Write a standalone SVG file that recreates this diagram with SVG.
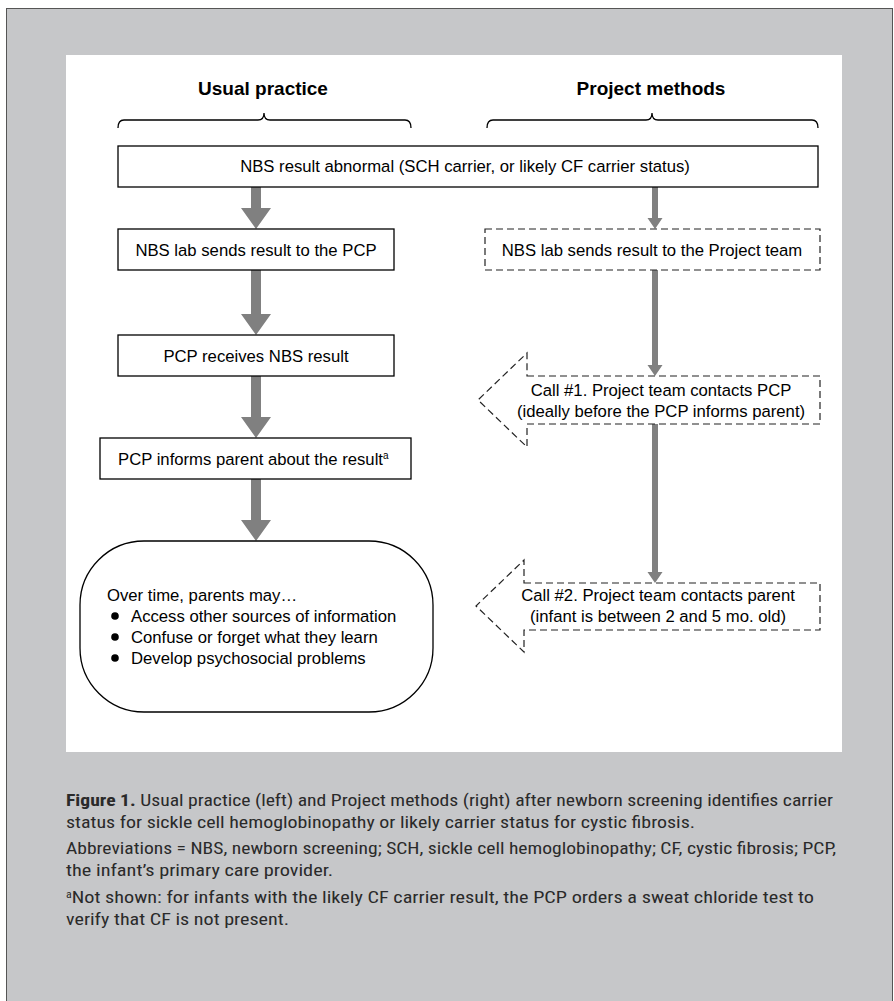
<svg xmlns="http://www.w3.org/2000/svg" width="894" height="1001" viewBox="0 0 894 1001">
<style>
.t{font-family:"Liberation Sans",Arial,sans-serif;font-size:16.7px;fill:#000}
.h{font-family:"Liberation Sans",Arial,sans-serif;font-size:19px;font-weight:bold;fill:#000}
.box{fill:#fff;stroke:#000;stroke-width:1.3}
.dbox{fill:#fff;stroke:#222;stroke-width:1.2;stroke-dasharray:7 4}
.br{fill:none;stroke:#000;stroke-width:1.3}
.ar{fill:#808080}
.cap{font-family:"Roboto Condensed","Liberation Sans Narrow","Liberation Sans",sans-serif;font-size:17px;fill:#2a2a2a}
</style>
<rect x="0" y="0" width="894" height="1001" fill="#fff"/>
<rect x="6.5" y="8.5" width="886" height="1000" fill="#c6c7c9" stroke="#555" stroke-width="1"/>
<rect x="66" y="55" width="776" height="697" fill="#fff"/>

<g id="headings">
<text class="h" x="263" y="95" text-anchor="middle">Usual practice</text>
<text class="h" x="651" y="95" text-anchor="middle">Project methods</text>
<path class="br" d="M118,128 Q118,120 124,120 H258 Q264,120 264,113 Q264,120 270,120 H405 Q411,120 411,128"/>
<path class="br" d="M487,128 Q487,120 493,120 H646 Q652,120 652,113 Q652,120 658,120 H812 Q818,120 818,128"/>
</g>

<g id="connectors">
<polygon class="ar" points="251,187 261,187 261,208 271,208 256,229 241,208 251,208"/>
<polygon class="ar" points="251,270 261,270 261,314 271,314 256,335 241,314 251,314"/>
<polygon class="ar" points="251,376 261,376 261,417 271,417 256,438 241,417 251,417"/>
<polygon class="ar" points="251,479 261,479 261,520 271,520 256,541 241,520 251,520"/>
<polygon class="ar" points="652,187 658,187 658,218 662.5,218 655,229 647.5,218 652,218"/>
<polygon class="ar" points="652,270 658,270 658,365 662.5,365 655,376 647.5,365 652,365"/>
<polygon class="ar" points="652,424 658,424 658,572 662.5,572 655,583 647.5,572 652,572"/>
</g>

<g id="n-abnormal">
<rect class="box" x="118" y="146" width="700" height="41"/>
<text class="t" x="465" y="172" text-anchor="middle">NBS result abnormal (SCH carrier, or likely CF carrier status)</text>
</g>

<g id="n-lab-pcp">
<rect class="box" x="118" y="229" width="276" height="41"/>
<text class="t" x="256" y="255.5" text-anchor="middle">NBS lab sends result to the PCP</text>
</g>

<g id="n-pcp-receives">
<rect class="box" x="118" y="335" width="276" height="41"/>
<text class="t" x="256" y="361.5" text-anchor="middle">PCP receives NBS result</text>
</g>

<g id="n-pcp-informs">
<rect class="box" x="100" y="438" width="311" height="41"/>
<text class="t" x="118" y="464.5">PCP informs parent about the result<tspan font-size="10" dy="-6">a</tspan></text>
</g>

<g id="n-over-time">
<rect class="box" x="80" y="541" width="353" height="171" rx="64" ry="64"/>
<text class="t" x="107" y="601">Over time, parents may…</text>
<circle cx="115" cy="616" r="3.8" fill="#000"/>
<text class="t" x="131" y="622">Access other sources of information</text>
<circle cx="115" cy="637" r="3.8" fill="#000"/>
<text class="t" x="131" y="643">Confuse or forget what they learn</text>
<circle cx="115" cy="658" r="3.8" fill="#000"/>
<text class="t" x="131" y="664">Develop psychosocial problems</text>
</g>

<g id="n-lab-team">
<rect class="dbox" x="485" y="229" width="335" height="41"/>
<text class="t" x="652" y="255.5" text-anchor="middle">NBS lab sends result to the Project team</text>
</g>

<g id="n-call1">
<path class="dbox" d="M527,376 H820 V424 H527 V447 L478,400 L527,353 Z"/>
<text class="t" x="661" y="396" text-anchor="middle">Call #1. Project team contacts PCP</text>
<text class="t" x="661" y="417" text-anchor="middle">(ideally before the PCP informs parent)</text>
</g>

<g id="n-call2">
<path class="dbox" d="M524,583 H820 V630 H524 V652 L476,606 L524,560 Z"/>
<text class="t" x="658" y="601" text-anchor="middle">Call #2. Project team contacts parent</text>
<text class="t" x="658" y="622" text-anchor="middle">(infant is between 2 and 5 mo. old)</text>
</g>

<g id="caption">
<text class="cap" x="66" y="806" textLength="767" lengthAdjust="spacingAndGlyphs"><tspan font-weight="bold">Figure 1.</tspan> Usual practice (left) and Project methods (right) after newborn screening identifies carrier</text>
<text class="cap" x="66" y="828" textLength="629" lengthAdjust="spacingAndGlyphs">status for sickle cell hemoglobinopathy or likely carrier status for cystic fibrosis.</text>
<text class="cap" x="66" y="854" textLength="770" lengthAdjust="spacingAndGlyphs">Abbreviations = NBS, newborn screening; SCH, sickle cell hemoglobinopathy; CF, cystic fibrosis; PCP,</text>
<text class="cap" x="66" y="876" textLength="267" lengthAdjust="spacingAndGlyphs">the infant’s primary care provider.</text>
<text class="cap" x="66" y="903" textLength="748" lengthAdjust="spacingAndGlyphs"><tspan font-size="10" dy="-5">a</tspan><tspan dy="5">Not shown: for infants with the likely CF carrier result, the PCP orders a sweat chloride test to</tspan></text>
<text class="cap" x="66" y="925" textLength="223" lengthAdjust="spacingAndGlyphs">verify that CF is not present.</text>
</g>
</svg>
